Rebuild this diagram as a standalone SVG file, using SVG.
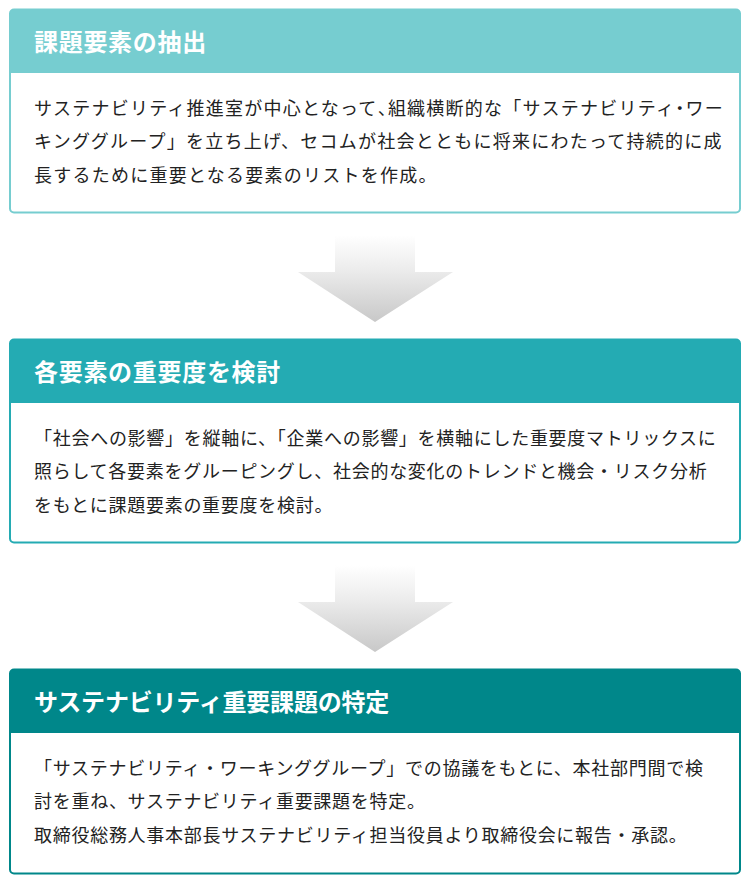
<svg xmlns="http://www.w3.org/2000/svg" width="750" height="880" viewBox="0 0 750 880">
<style>
.box{fill:#fff;stroke-width:2}
.ttl{font-family:"Noto Sans CJK JP","Noto Sans",sans-serif;font-size:24px;font-weight:bold;fill:#fff;letter-spacing:0.7px}
.t3{letter-spacing:-0.2px}
.body{font-family:"Noto Sans CJK JP","Noto Sans",sans-serif;font-size:18px;fill:#222}
.b1{letter-spacing:1.25px}
.b2{letter-spacing:0.72px}
.halt{font-feature-settings:"halt"}
</style>
<defs>
<linearGradient id="ag" x1="0" y1="0" x2="0" y2="1">
<stop offset="0" stop-color="#ffffff"/>
<stop offset="0.4" stop-color="#ececec"/>
<stop offset="1" stop-color="#c8c8c8"/>
</linearGradient>
</defs>
<rect width="750" height="880" fill="#fff"/>
<g id="node1">
<rect class="box" x="10" y="9.5" width="730" height="203" rx="4" stroke="#76cdd0"/>
<path d="M14 9.5H736A4 4 0 0 1 740 13.5V73H10V13.5A4 4 0 0 1 14 9.5Z" fill="#76cdd0"/>
<text class="ttl" x="34" y="51">課題要素の抽出</text>
<text class="body b1" x="34" y="115">サステナビリティ推進室が中心となって<tspan class="halt">、</tspan>組織横断的な「サステナビリティ<tspan class="halt">・</tspan>ワー</text>
<text class="body b1" x="34" y="148">キンググループ」を立ち上げ、セコムが社会とともに将来にわたって持続的に成</text>
<text class="body b1" x="34" y="182">長するために重要となる要素のリストを作成。</text>
</g>
<g id="node2">
<rect class="box" x="10" y="339.5" width="730" height="203" rx="4" stroke="#24abb3"/>
<path d="M14 339.5H736A4 4 0 0 1 740 343.5V403H10V343.5A4 4 0 0 1 14 339.5Z" fill="#24abb3"/>
<text class="ttl" x="34" y="381">各要素の重要度を検討</text>
<text class="body b2" x="34" y="445">「社会への影響」を縦軸に、「企業への影響」を横軸にした重要度マトリックスに</text>
<text class="body b2" x="34" y="478">照らして各要素をグルーピングし、社会的な変化のトレンドと機会・リスク分析</text>
<text class="body b2" x="34" y="512">をもとに課題要素の重要度を検討。</text>
</g>
<g id="node3">
<rect class="box" x="10" y="669.5" width="730" height="204" rx="4" stroke="#00878a"/>
<path d="M14 669.5H736A4 4 0 0 1 740 673.5V733H10V673.5A4 4 0 0 1 14 669.5Z" fill="#00878a"/>
<text class="ttl t3" x="34" y="711">サステナビリティ重要課題の特定</text>
<text class="body b2" x="34" y="775">「サステナビリティ・ワーキンググループ」での協議をもとに、本社部門間で検</text>
<text class="body b2" x="34" y="808">討を重ね、サステナビリティ重要課題を特定。</text>
<text class="body b2" x="34" y="842">取締役総務人事本部長サステナビリティ担当役員より取締役会に報告・承認。</text>
</g>
<g id="connectors">
<path d="M335 235H415V272H453L375 322L298 272H335Z" fill="url(#ag)"/>
<path d="M335 565H415V602H453L375 652L298 602H335Z" fill="url(#ag)"/>
</g>
</svg>
